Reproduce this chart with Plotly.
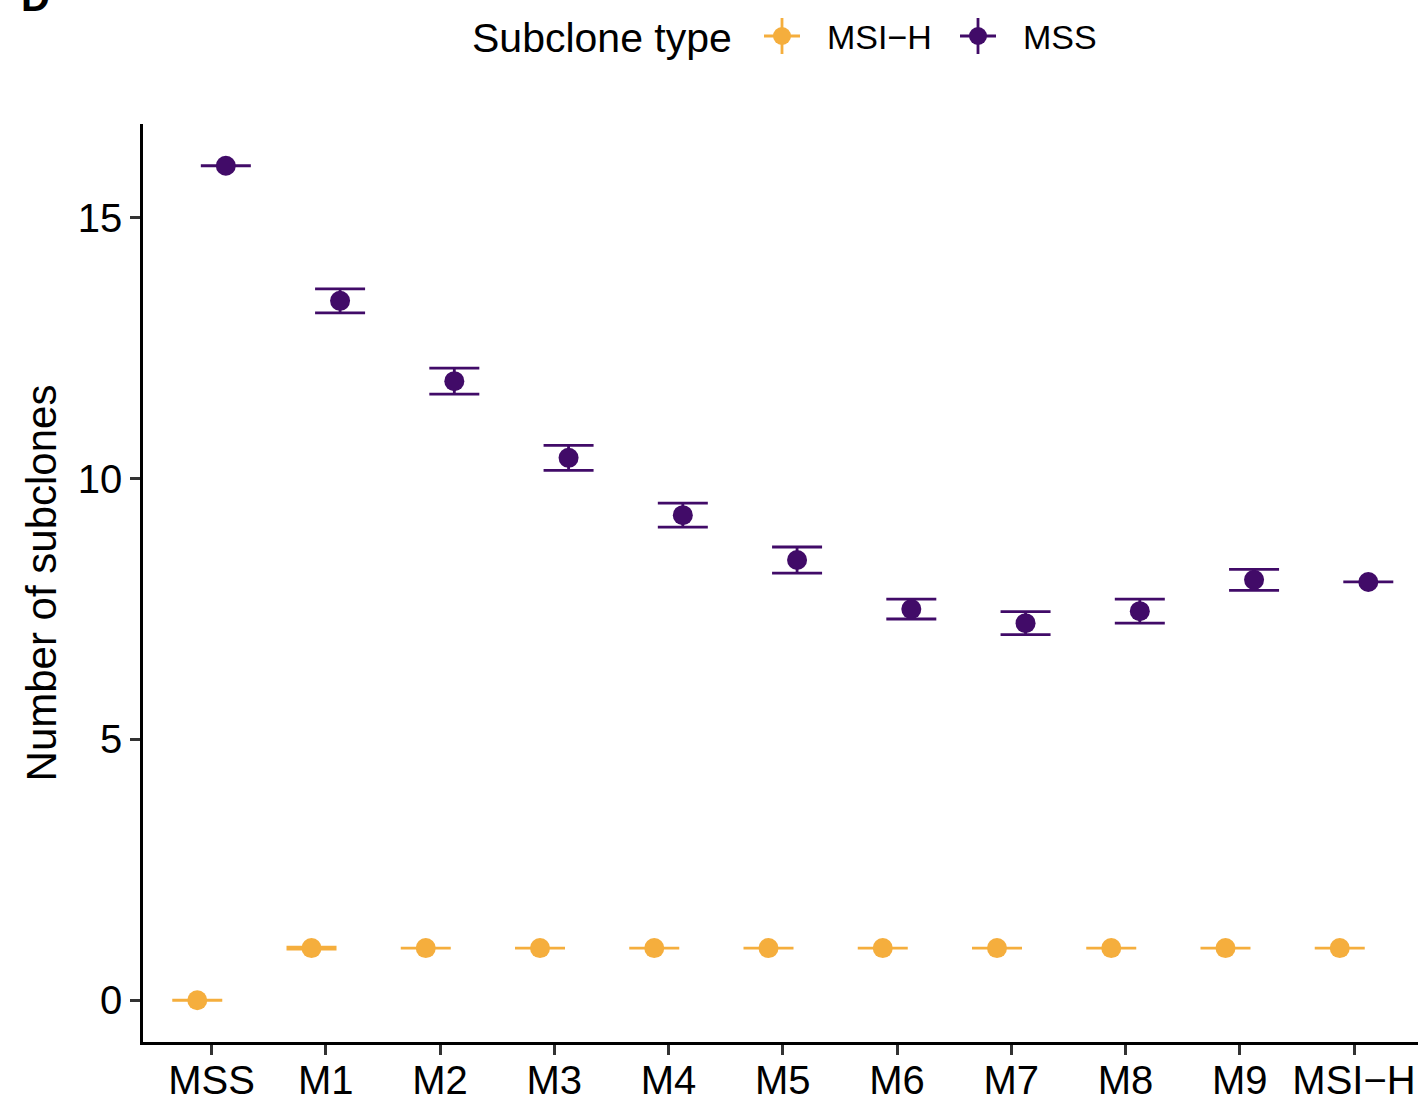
import plotly.graph_objects as go

categories = ["MSS", "M1", "M2", "M3", "M4", "M5", "M6", "M7", "M8", "M9", "MSI\u2212H"]

msih_mean = [0, 1, 1, 1, 1, 1, 1, 1, 1, 1, 1]
msih_err = [0, 0.02, 0, 0, 0, 0, 0, 0, 0, 0, 0]

mss_mean = [16.0, 13.41, 11.87, 10.40, 9.30, 8.44, 7.50, 7.23, 7.46, 8.06, 8.02]
mss_err = [0, 0.23, 0.25, 0.24, 0.23, 0.25, 0.19, 0.22, 0.23, 0.20, 0]

y_ticks = [0, 5, 10, 15]

legend_title = "Subclone type"
legend_names = ["MSI\u2212H", "MSS"]

ORANGE = "#F5AE3D"
PURPLE = "#410B68"
DODGE = 0.125

W, H = 1418, 1102
ML, MR, MT, MB = 143, 0, 124, 60
PW, PH = W - ML - MR, H - MT - MB


def px_x(px):
    return (px - ML) / PW


def px_y(py):
    return (H - MB - py) / PH


idx = list(range(len(categories)))

fig = go.Figure()
fig.add_trace(go.Scatter(
    x=[i - DODGE for i in idx], y=msih_mean, mode="markers", name=legend_names[0],
    marker=dict(color=ORANGE, size=20), showlegend=False,
    error_y=dict(type="data", array=msih_err, visible=True, color=ORANGE, thickness=2.8, width=25),
))
fig.add_trace(go.Scatter(
    x=[i + DODGE for i in idx], y=mss_mean, mode="markers", name=legend_names[1],
    marker=dict(color=PURPLE, size=20), showlegend=False,
    error_y=dict(type="data", array=mss_err, visible=True, color=PURPLE, thickness=2.8, width=25),
))

font_family = "Liberation Sans, Arial, sans-serif"

# custom legend (pointrange-style keys)
shapes = []
annotations = []
legend_cy = 36
annotations.append(dict(
    text=legend_title, xref="paper", yref="paper", x=px_x(470), y=px_y(legend_cy + 2),
    xanchor="left", yanchor="middle", showarrow=False, font=dict(size=41, family=font_family, color="black"),
))
for name, color, cx, tx in [(legend_names[0], ORANGE, 782, 825), (legend_names[1], PURPLE, 978, 1021)]:
    shapes.append(dict(type="line", xref="paper", yref="paper", x0=px_x(cx), x1=px_x(cx),
                       y0=px_y(legend_cy - 18), y1=px_y(legend_cy + 18), line=dict(color=color, width=2.8)))
    shapes.append(dict(type="line", xref="paper", yref="paper", x0=px_x(cx - 18), x1=px_x(cx + 18),
                       y0=px_y(legend_cy), y1=px_y(legend_cy), line=dict(color=color, width=2.8)))
    shapes.append(dict(type="circle", xref="paper", yref="paper", x0=px_x(cx - 9), x1=px_x(cx + 9),
                       y0=px_y(legend_cy - 9), y1=px_y(legend_cy + 9), fillcolor=color, line=dict(width=0)))
    annotations.append(dict(
        text=name, xref="paper", yref="paper", x=px_x(tx), y=px_y(legend_cy + 1),
        xanchor="left", yanchor="middle", showarrow=False, font=dict(size=34, family=font_family, color="black"),
    ))

annotations.append(dict(
    text="<b>D</b>", xref="paper", yref="paper", x=px_x(35), y=px_y(-3),
    xanchor="center", yanchor="middle", showarrow=False, font=dict(size=40, family=font_family, color="black"),
))

fig.update_layout(
    width=W, height=H,
    margin=dict(l=ML, r=MR, t=MT, b=MB, pad=0),
    plot_bgcolor="white", paper_bgcolor="white",
    font=dict(family=font_family, color="black"),
    showlegend=False,
    xaxis=dict(
        range=[-0.6, 10.56], tickmode="array", tickvals=idx, ticktext=categories,
        showgrid=False, zeroline=False, showline=True, linecolor="black", linewidth=2.5,
        ticks="outside", ticklen=10, tickwidth=2.5, tickcolor="#333333", automargin=False,
        ticklabelstandoff=-9,
        tickfont=dict(size=40, family=font_family, color="black"),
    ),
    yaxis=dict(
        range=[-0.8, 16.8], tickmode="array", tickvals=y_ticks, ticktext=[str(v) for v in y_ticks],
        showgrid=False, zeroline=False, showline=True, linecolor="black", linewidth=2.5,
        ticks="outside", ticklen=10, tickwidth=2.5, tickcolor="#333333", automargin=False,
        tickfont=dict(size=40, family=font_family, color="black"),
        title=dict(text="Number of subclones", font=dict(size=42, family=font_family), standoff=9),
    ),
    shapes=shapes,
    annotations=annotations,
)

fig.write_html("out.html")
